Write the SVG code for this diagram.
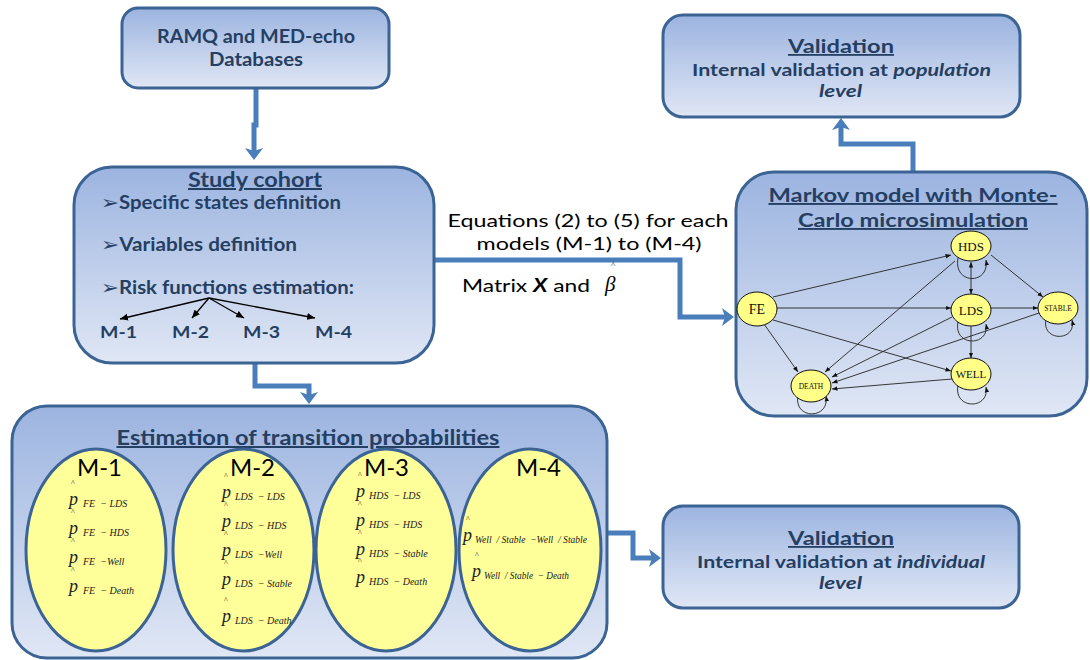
<svg xmlns="http://www.w3.org/2000/svg" width="1090" height="660" viewBox="0 0 1090 660">
  <defs>
    <linearGradient id="boxFill" x1="0" y1="0" x2="0" y2="1">
      <stop offset="0" stop-color="#9cb4e0"/>
      <stop offset="1" stop-color="#e0e7f5"/>
    </linearGradient>
    <marker id="bigArrow" markerWidth="14" markerHeight="20" refX="3" refY="9" orient="auto" markerUnits="userSpaceOnUse">
      <path d="M0,0 L12,9 L0,18 L3,9 z" fill="#4a7ebb"/>
    </marker>
    <marker id="thin" markerWidth="9" markerHeight="8" refX="8" refY="4" orient="auto" markerUnits="userSpaceOnUse">
      <path d="M0,0.5 L8,4 L0,7.5 z" fill="#000"/>
    </marker>
    <marker id="tiny" markerWidth="6" markerHeight="6" refX="5.5" refY="3" orient="auto-start-reverse" markerUnits="userSpaceOnUse">
      <path d="M0,0.8 L5.5,3 L0,5.2 z" fill="#111"/>
    </marker>
  </defs>
  <style>
    .box { fill: url(#boxFill); stroke: #3b6495; stroke-width: 3; }
    .flow { fill: none; stroke: #4a7ebb; stroke-width: 5; marker-end: url(#bigArrow); }
    .hd { font-family: Lato, "Liberation Sans", sans-serif; font-weight: bold; fill: #253f62; }
    .ul { text-decoration: underline; }
    .it { font-style: italic; }
    .bullet { font-family: "DejaVu Sans", sans-serif; font-weight: normal; font-size: 19px; }
    .plain { font-family: Lato, "Liberation Sans", sans-serif; fill: #000; }
    .oval { fill: #ffff99; stroke: #3b6495; stroke-width: 3; }
    .state { fill: #ffff88; stroke: #111; stroke-width: 1; }
    .sl { font-family: "Liberation Serif", serif; fill: #111; text-anchor: middle; }
    .edge { fill: none; stroke: #222; stroke-width: 0.9; marker-end: url(#tiny); }
    .p { font-family: "Liberation Serif", serif; font-style: italic; font-size: 18px; fill: #222; }
    .hat { font-family: "Liberation Serif", serif; font-size: 8px; fill: #222; }
    .sub { font-family: "Liberation Serif", serif; font-style: italic; font-size: 10px; fill: #222; white-space: pre; }
    .mlab { font-family: Lato, "Liberation Sans", sans-serif; font-size: 23px; fill: #000; }
  </style>

  <rect width="1090" height="660" fill="#fff"/>

  <!-- block connectors -->
  <g id="connectors">
    <path class="flow" d="M256,88 V125 H254 V151"/>
    <path class="flow" d="M255,363 V386 H309 V395"/>
    <path class="flow" d="M434,260 H680 V317 H725"/>
    <path class="flow" d="M913,172 V144 H841 V127"/>
    <path class="flow" d="M607,533 H633 V558 H652"/>
  </g>

  <!-- labels on the cohort-to-model connector -->
  <g id="connector-labels">
    <text class="plain" x="588" y="227" font-size="18" text-anchor="middle" textLength="281" lengthAdjust="spacingAndGlyphs">Equations (2) to (5) for each</text>
    <text class="plain" x="589" y="250" font-size="18" text-anchor="middle" textLength="225" lengthAdjust="spacingAndGlyphs">models (M-1) to (M-4)</text>
    <text class="plain" x="462" y="292" font-size="18" textLength="128" lengthAdjust="spacingAndGlyphs">Matrix <tspan font-weight="bold" font-style="italic">X</tspan> and</text>
    <text x="605" y="291" font-family="Liberation Serif, serif" font-style="italic" font-size="21" fill="#000">β</text>
    <text x="611" y="268" font-family="Liberation Serif, serif" font-size="9" fill="#000">^</text>
  </g>

  <!-- source databases -->
  <g id="databases">
    <rect class="box" x="122" y="8" width="267" height="80" rx="16"/>
    <text class="hd" x="256" y="43" font-size="18" text-anchor="middle" textLength="198" lengthAdjust="spacingAndGlyphs">RAMQ and MED-echo</text>
    <text class="hd" x="256" y="66" font-size="18" text-anchor="middle" textLength="94" lengthAdjust="spacingAndGlyphs">Databases</text>
  </g>

  <!-- study cohort -->
  <g id="study-cohort">
    <rect class="box" x="74" y="167" width="360" height="196" rx="38"/>
    <text class="hd ul" x="255" y="187" font-size="20" text-anchor="middle" textLength="134" lengthAdjust="spacingAndGlyphs">Study cohort</text>
    <text class="hd" x="101" y="209" font-size="18" textLength="240" lengthAdjust="spacingAndGlyphs"><tspan class="bullet">➢</tspan>Specific states definition</text>
    <text class="hd" x="101" y="251" font-size="18" textLength="196" lengthAdjust="spacingAndGlyphs"><tspan class="bullet">➢</tspan>Variables definition</text>
    <text class="hd" x="101" y="294" font-size="18" textLength="253" lengthAdjust="spacingAndGlyphs"><tspan class="bullet">➢</tspan>Risk functions estimation:</text>
    <g fill="none" stroke="#000" stroke-width="1.3" marker-end="url(#thin)">
      <line x1="209" y1="298" x2="120" y2="319"/>
      <line x1="209" y1="298" x2="192" y2="318"/>
      <line x1="209" y1="298" x2="244" y2="318"/>
      <line x1="209" y1="298" x2="315" y2="318"/>
    </g>
    <text class="hd" x="100" y="338" font-size="17" textLength="37" lengthAdjust="spacingAndGlyphs">M-1</text>
    <text class="hd" x="172" y="338" font-size="17" textLength="37" lengthAdjust="spacingAndGlyphs">M-2</text>
    <text class="hd" x="243" y="338" font-size="17" textLength="37" lengthAdjust="spacingAndGlyphs">M-3</text>
    <text class="hd" x="315" y="338" font-size="17" textLength="37" lengthAdjust="spacingAndGlyphs">M-4</text>
  </g>

  <!-- transition probability estimation -->
  <g id="estimation">
    <rect class="box" x="12" y="406" width="595" height="252" rx="35"/>
    <text class="hd ul" x="308" y="445" font-size="20" text-anchor="middle" textLength="383" lengthAdjust="spacingAndGlyphs">Estimation of transition probabilities</text>

    <g id="model-1">
      <ellipse class="oval" cx="96" cy="550" rx="70" ry="101"/>
      <text class="mlab" x="77" y="476" textLength="45" lengthAdjust="spacingAndGlyphs">M-1</text>
      <text class="hat" x="71" y="486">^</text><text class="p" x="69" y="505">p</text><text class="sub" x="83" y="507">FE  − LDS</text>
      <text class="hat" x="71" y="515">^</text><text class="p" x="69" y="534">p</text><text class="sub" x="83" y="536">FE  − HDS</text>
      <text class="hat" x="71" y="544">^</text><text class="p" x="69" y="563">p</text><text class="sub" x="83" y="565">FE  −Well</text>
      <text class="hat" x="71" y="573">^</text><text class="p" x="69" y="592">p</text><text class="sub" x="83" y="594">FE  − Death</text>
    </g>

    <g id="model-2">
      <ellipse class="oval" cx="243.5" cy="550" rx="70.5" ry="101"/>
      <text class="mlab" x="230" y="476" textLength="45" lengthAdjust="spacingAndGlyphs">M-2</text>
      <text class="hat" x="224" y="479">^</text><text class="p" x="222" y="498">p</text><text class="sub" x="235" y="500">LDS  − LDS</text>
      <text class="hat" x="224" y="508">^</text><text class="p" x="222" y="527">p</text><text class="sub" x="235" y="529">LDS  − HDS</text>
      <text class="hat" x="224" y="537">^</text><text class="p" x="222" y="556">p</text><text class="sub" x="235" y="558">LDS  −Well</text>
      <text class="hat" x="224" y="566">^</text><text class="p" x="222" y="585">p</text><text class="sub" x="235" y="587">LDS  − Stable</text>
      <text class="hat" x="224" y="603">^</text><text class="p" x="222" y="622">p</text><text class="sub" x="235" y="624">LDS  − Death</text>
    </g>

    <g id="model-3">
      <ellipse class="oval" cx="386" cy="550" rx="70" ry="101"/>
      <text class="mlab" x="364" y="476" textLength="45" lengthAdjust="spacingAndGlyphs">M-3</text>
      <text class="hat" x="358" y="478">^</text><text class="p" x="356" y="497">p</text><text class="sub" x="369" y="499">HDS  − LDS</text>
      <text class="hat" x="358" y="507">^</text><text class="p" x="356" y="526">p</text><text class="sub" x="369" y="528">HDS  − HDS</text>
      <text class="hat" x="358" y="536">^</text><text class="p" x="356" y="555">p</text><text class="sub" x="369" y="557">HDS  − Stable</text>
      <text class="hat" x="358" y="564">^</text><text class="p" x="356" y="583">p</text><text class="sub" x="369" y="585">HDS  − Death</text>
    </g>

    <g id="model-4">
      <ellipse class="oval" cx="530" cy="550" rx="71" ry="101"/>
      <text class="mlab" x="516" y="476" textLength="45" lengthAdjust="spacingAndGlyphs">M-4</text>
      <text class="hat" x="466" y="522">^</text><text class="p" x="463" y="541">p</text><text class="sub" x="475" y="543" textLength="112" lengthAdjust="spacingAndGlyphs">Well  / Stable  −Well  / Stable</text>
      <text class="hat" x="475" y="558">^</text><text class="p" x="472" y="577">p</text><text class="sub" x="484" y="579" textLength="85" lengthAdjust="spacingAndGlyphs">Well  / Stable  − Death</text>
    </g>
  </g>

  <!-- Markov model -->
  <g id="markov-model">
    <rect class="box" x="736" y="172" width="351" height="244" rx="38"/>
    <text class="hd ul" x="913" y="202" font-size="19" text-anchor="middle" textLength="289" lengthAdjust="spacingAndGlyphs">Markov model with Monte-</text>
    <text class="hd ul" x="913" y="227" font-size="19" text-anchor="middle" textLength="230" lengthAdjust="spacingAndGlyphs">Carlo microsimulation</text>

    <g id="markov-edges">
      <line class="edge" x1="773" y1="297" x2="951" y2="255"/>
      <line class="edge" x1="777" y1="308" x2="951" y2="308"/>
      <line class="edge" x1="773" y1="320" x2="951" y2="371"/>
      <line class="edge" x1="764" y1="324" x2="798" y2="372"/>
      <line class="edge" x1="955" y1="261" x2="825" y2="372"/>
      <line class="edge" x1="971" y1="262" x2="971" y2="294" marker-start="url(#tiny)"/>
      <line class="edge" x1="991" y1="255" x2="1043" y2="297"/>
      <line class="edge" x1="991" y1="308" x2="1038" y2="308"/>
      <line class="edge" x1="971" y1="326" x2="971" y2="358"/>
      <line class="edge" x1="952" y1="317" x2="832" y2="377"/>
      <line class="edge" x1="1039" y1="313" x2="832" y2="383"/>
      <line class="edge" x1="952" y1="379" x2="832" y2="389"/>
      <path class="edge" d="M958,258 C953,285 990,285 986,260"/>
      <path class="edge" d="M958,322 C953,347 990,347 986,324"/>
      <path class="edge" d="M1046,319 C1041,342 1077,342 1072,320"/>
      <path class="edge" d="M958,385 C953,410 990,410 986,387"/>
      <path class="edge" d="M798,395 C793,420 830,420 826,396"/>
    </g>

    <g id="state-hds"><ellipse class="state" cx="971" cy="246" rx="20" ry="15"/><text class="sl" x="971" y="251" font-size="13">HDS</text></g>
    <g id="state-fe"><ellipse class="state" cx="757" cy="309" rx="20" ry="17"/><text class="sl" x="757" y="314" font-size="14">FE</text></g>
    <g id="state-lds"><ellipse class="state" cx="971" cy="310" rx="20" ry="16"/><text class="sl" x="971" y="315" font-size="13">LDS</text></g>
    <g id="state-stable"><ellipse class="state" cx="1058" cy="308" rx="20" ry="16"/><text class="sl" x="1058" y="311" font-size="7.5">STABLE</text></g>
    <g id="state-well"><ellipse class="state" cx="971" cy="374" rx="20" ry="16"/><text class="sl" x="971" y="378" font-size="11">WELL</text></g>
    <g id="state-death"><ellipse class="state" cx="811" cy="386" rx="20" ry="16"/><text class="sl" x="811" y="389" font-size="7.5">DEATH</text></g>
  </g>

  <!-- population-level validation -->
  <g id="validation-population">
    <rect class="box" x="663" y="15" width="357" height="102" rx="20"/>
    <text class="hd ul" x="841" y="53" font-size="18" text-anchor="middle" textLength="106" lengthAdjust="spacingAndGlyphs">Validation</text>
    <text class="hd" x="841.5" y="76" font-size="17" text-anchor="middle" textLength="299" lengthAdjust="spacingAndGlyphs">Internal validation at <tspan class="it">population</tspan></text>
    <text class="hd it" x="840.5" y="97" font-size="17" text-anchor="middle" textLength="43" lengthAdjust="spacingAndGlyphs">level</text>
  </g>

  <!-- individual-level validation -->
  <g id="validation-individual">
    <rect class="box" x="663" y="506" width="356" height="102" rx="20"/>
    <text class="hd ul" x="841" y="545" font-size="18" text-anchor="middle" textLength="106" lengthAdjust="spacingAndGlyphs">Validation</text>
    <text class="hd" x="841" y="568" font-size="17" text-anchor="middle" textLength="288" lengthAdjust="spacingAndGlyphs">Internal validation at <tspan class="it">individual</tspan></text>
    <text class="hd it" x="840.5" y="589" font-size="17" text-anchor="middle" textLength="43" lengthAdjust="spacingAndGlyphs">level</text>
  </g>
</svg>
